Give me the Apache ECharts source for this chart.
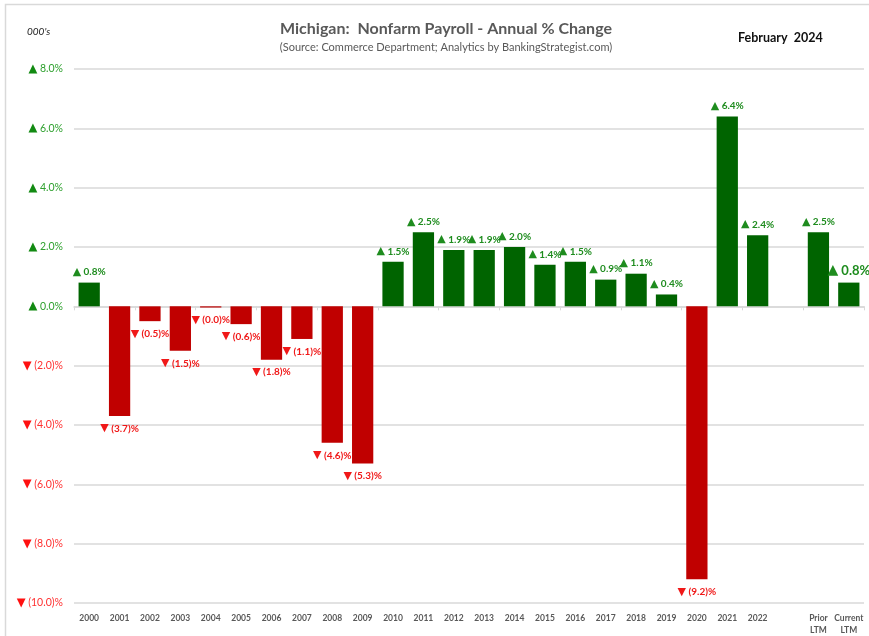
<!DOCTYPE html>
<html>
<head>
<meta charset="utf-8">
<script src="https://cdn.jsdelivr.net/npm/echarts@6/dist/echarts.min.js"></script>
<style>
  html, body { margin: 0; padding: 0; background: #fff; }
  #chart { width: 869px; height: 636px; }
</style>
</head>
<body>
<div id="chart"></div>
<script>
// categories along the bottom (blank slot before the LTM pair)
const categories = ['2000', '2001', '2002', '2003', '2004', '2005', '2006', '2007', '2008', '2009',
  '2010', '2011', '2012', '2013', '2014', '2015', '2016', '2017', '2018', '2019',
  '2020', '2021', '2022', '', 'Prior\nLTM', 'Current\nLTM']
// annual % change
const pctChange = [0.8, -3.7, -0.5, -1.5, -0.04, -0.6, -1.8, -1.1, -4.6, -5.3,
  1.5, 2.5, 1.9, 1.9, 2.0, 1.4, 1.5, 0.9, 1.1, 0.4,
  -9.2, 6.4, 2.4, null, 2.5, 0.8]
const yTicks = [-10, -8, -6, -4, -2, 0, 2, 4, 6, 8]

const green = '#006400'
const red = '#c00000'
const greenText = '#1e8c1e'
const redText = '#f01818'
const triFont = '"DejaVu Sans", sans-serif'

const fmtPct = (v) => {
    const a = Math.abs(v).toFixed(1)
    return v < 0 ? '{t|\u25BC} (' + a + ')%' : '{t|\u25B2} ' + a + '%'
}

const seriesData = pctChange.map((v, i) => {
    if (v === null) return null
    const neg = v < 0
    const last = i === pctChange.length - 1
    const fs = last ? 13 : 10
    return {
        value: v,
        itemStyle: { color: neg ? red : green },
        label: {
            show: true,
            position: neg ? 'bottom' : 'top',
            distance: neg ? 7 : 5,
            color: neg ? redText : greenText,
            fontSize: fs,
            fontWeight: 'bold',
            formatter: () => fmtPct(v),
            rich: {
                t: { fontFamily: triFont, fontSize: fs + 1, color: neg ? redText : greenText }
            }
        }
    }
})

const myChart = echarts.init(document.getElementById('chart'))
const option = {
    animation: false,
    textStyle: { fontFamily: 'Lato, "Noto Sans", sans-serif' },
    graphic: [
        {
            type: 'rect',
            shape: { x: 5.5, y: 4.5, width: 870, height: 640 },
            style: { fill: 'none', stroke: '#d9d9d9', lineWidth: 1.5 }
        },
        {
            type: 'text', left: 27, top: 27,
            style: { text: "000's", fontSize: 10, fontStyle: 'italic', fill: '#222', fontFamily: 'Lato' }
        },
        {
            type: 'text', left: 738, top: 31,
            style: { text: 'February  2024', fontSize: 12.5, fontWeight: 'bold', fill: '#111', fontFamily: 'Lato' }
        }
    ],
    title: {
        text: 'Michigan:  Nonfarm Payroll - Annual % Change',
        subtext: '(Source: Commerce Department; Analytics by BankingStrategist.com)',
        left: 441,
        textAlign: 'center',
        top: 16,
        itemGap: 5,
        textStyle: { fontSize: 16, fontWeight: 'bold', color: '#595959', fontFamily: 'Lato' },
        subtextStyle: { fontSize: 11, color: '#595959', fontFamily: 'Lato' }
    },
    grid: { left: 74, right: 5, top: 69, bottom: 30 },
    xAxis: [
        {
            type: 'category',
            data: categories,
            axisLine: { onZero: false, show: false },
            axisTick: { show: false },
            axisLabel: {
                interval: 0,
                color: '#595959',
                fontSize: 8.5,
                fontWeight: 'bold',
                margin: 9,
                lineHeight: 12
            }
        },
        {
            type: 'category',
            data: categories,
            position: 'bottom',
            axisLine: { onZero: true, lineStyle: { color: '#d9d9d9', width: 1.5 } },
            axisTick: { show: true, length: 4, lineStyle: { color: '#d9d9d9' } },
            axisLabel: { show: false }
        }
    ],
    yAxis: {
        type: 'value',
        min: -10,
        max: 8,
        interval: 2,
        axisLine: { show: false },
        axisTick: { show: false },
        splitLine: { lineStyle: { color: '#d9d9d9', width: 1.5 } },
        axisLabel: {
            margin: 11,
            fontSize: 10.5,
            formatter: (v) => v < 0
                ? '{dt|\u25BC} {dn|(' + Math.abs(v).toFixed(1) + ')%}'
                : '{ut|\u25B2} {up|' + v.toFixed(1) + '%}',
            rich: {
                ut: { fontFamily: triFont, fontSize: 11.5, color: '#128a12' },
                up: { fontSize: 10.5, color: '#2ea02e' },
                dt: { fontFamily: triFont, fontSize: 11.5, color: '#ff1010' },
                dn: { fontSize: 10.5, color: '#ff3030' }
            }
        }
    },
    series: [
        {
            type: 'bar',
            xAxisIndex: 0,
            data: seriesData,
            barWidth: '70%'
        }
    ]
}
myChart.setOption(option)
</script>
</body>
</html>
